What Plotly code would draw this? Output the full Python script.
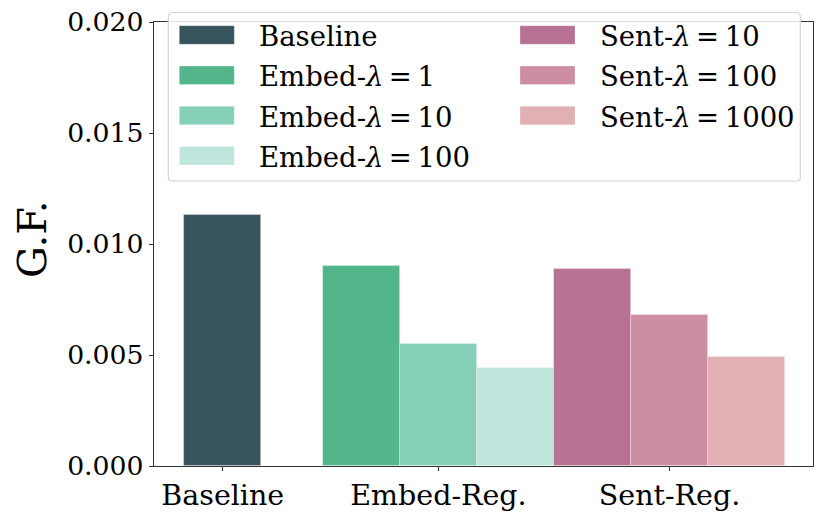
import plotly.graph_objects as go

# ---------------- data ----------------
categories = ["Baseline", "Embed-Reg.", "Sent-Reg."]
group_centers = [0.0, 2.81, 5.82]          # category positions on the x axis

series_names = ["Baseline", "Embed-λ = 1", "Embed-λ = 10", "Embed-λ = 100",
                "Sent-λ = 10", "Sent-λ = 100", "Sent-λ = 1000"]
series_group = [0, 1, 1, 1, 2, 2, 2]        # which category each series sits in
series_slot = [0, -1, 0, 1, -1, 0, 1]       # dodge slot within its category
series_values = [0.01129, 0.00901, 0.00550, 0.00440, 0.00889, 0.00680, 0.00490]
series_colors = ["#37535e", "#52b68a", "#86d0ba", "#bee6dd",
                 "#b77293", "#ce8ea2", "#e1b0b2"]

y_ticks = [0.000, 0.005, 0.010, 0.015, 0.020]
y_label = "G.F."

# ---------------- figure ----------------
FONT = "DejaVu Serif"
BAR_W = 1.0
W, H = 830, 519
ML, MT, MR, MB = 154, 22, 17, 53
PW, PH = W - ML - MR, H - MT - MB

fig = go.Figure()
for name, g, s, v, c in zip(series_names, series_group, series_slot,
                            series_values, series_colors):
    fig.add_trace(go.Bar(
        x=[group_centers[g] + s * BAR_W], y=[v], width=BAR_W, name=name,
        marker=dict(color=c, line=dict(color="rgba(255,255,255,0.35)", width=0.8)),
        showlegend=False,
    ))

# helpers: pixel -> paper
def px(xp):
    return (xp - ML) / PW

def py(yp):
    return (MT + PH - yp) / PH

shapes = []
annotations = []

# legend frame (rounded)
lx0, lx1, ly0, ly1, r = 168.3, 800.3, 12.5, 181.0, 4
path = (f"M {px(lx0 + r)},{py(ly0)} L {px(lx1 - r)},{py(ly0)} "
        f"Q {px(lx1)},{py(ly0)} {px(lx1)},{py(ly0 + r)} "
        f"L {px(lx1)},{py(ly1 - r)} Q {px(lx1)},{py(ly1)} {px(lx1 - r)},{py(ly1)} "
        f"L {px(lx0 + r)},{py(ly1)} Q {px(lx0)},{py(ly1)} {px(lx0)},{py(ly1 - r)} "
        f"L {px(lx0)},{py(ly0 + r)} Q {px(lx0)},{py(ly0)} {px(lx0 + r)},{py(ly0)} Z")
shapes.append(dict(type="path", path=path, xref="paper", yref="paper",
                   fillcolor="rgba(255,255,255,0.85)",
                   line=dict(color="#d3d3d3", width=1.2), layer="above"))

col_sw_x = [179.3, 520.0]
col_tx_x = [256.5, 598.0]
row_y = [35.0, 75.3, 115.5, 155.7]
sw_w, sw_h = 55.0, 18.6
col_counter = [0, 0]
for i, (name, c) in enumerate(zip(series_names, series_colors)):
    col = 0 if series_group[i] < 2 else 1
    row = col_counter[col]
    col_counter[col] += 1
    yc = row_y[row]
    x0 = col_sw_x[col]
    shapes.append(dict(type="rect", xref="paper", yref="paper",
                       x0=px(x0), x1=px(x0 + sw_w),
                       y0=py(yc - sw_h / 2), y1=py(yc + sw_h / 2),
                       fillcolor=c, line=dict(color="rgba(255,255,255,0.35)", width=0.8),
                       layer="above"))
    label = name.replace("λ", "<i>λ</i>").replace(" = ", "\u2009=\u2009")
    annotations.append(dict(text=label, xref="paper", yref="paper",
                            x=px(col_tx_x[col]), y=py(yc + 1), xanchor="left",
                            yanchor="middle", showarrow=False,
                            font=dict(family=FONT, size=27.5, color="black")))

# y-axis title
annotations.append(dict(text=y_label, xref="paper", yref="paper",
                        x=px(32), y=py(240), textangle=-90, showarrow=False,
                        xanchor="center", yanchor="middle",
                        font=dict(family=FONT, size=40, color="black")))

fig.update_layout(
    width=W, height=H,
    margin=dict(l=ML, r=MR, t=MT, b=MB, pad=0, autoexpand=False),
    paper_bgcolor="white", plot_bgcolor="white",
    barmode="overlay", bargap=0,
    shapes=shapes, annotations=annotations,
    font=dict(family=FONT, size=27, color="black"),
)
fig.update_xaxes(
    range=[-0.896, 7.69], tickvals=group_centers, ticktext=categories,
    automargin=False,
    showgrid=False, zeroline=False, showline=True, mirror=True,
    linecolor="#333333", linewidth=1.2, ticks="outside", ticklen=4,
    tickcolor="#333333", tickwidth=1.2,
    tickfont=dict(family=FONT, size=28.5, color="black"),
)
fig.update_yaxes(
    range=[0, 0.020], tickvals=y_ticks, tickformat=".3f",
    ticklabeloverflow="allow", automargin=False,
    showgrid=False, zeroline=False, showline=True, mirror=True,
    linecolor="#333333", linewidth=1.2, ticks="outside", ticklen=4,
    tickcolor="#333333", tickwidth=1.2,
    tickfont=dict(family=FONT, size=26.7, color="black"),
)

fig.write_html("out.html",
               config={"displayModeBar": False},
               post_script="document.body.style.margin='0';"
                           "document.body.style.overflow='hidden';")
